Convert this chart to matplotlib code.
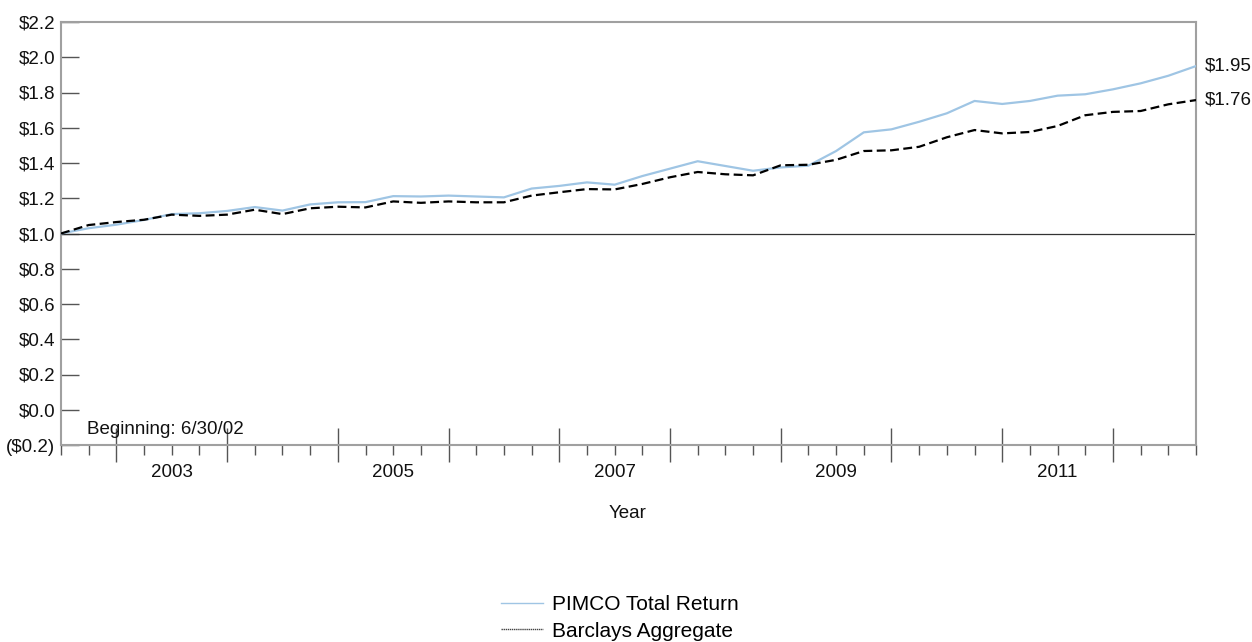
import matplotlib
matplotlib.use("Agg")
import matplotlib.pyplot as plt
import numpy as np
from matplotlib.lines import Line2D

plt.rcParams['font.family'] = ['Liberation Sans', 'DejaVu Sans']

# quarterly points from 6/30/02 to 9/30/12 (decimal years)
quarters = [2002.5 + 0.25 * i for i in range(42)]

pimco = [1.00, 1.03, 1.05, 1.077, 1.11, 1.115, 1.128, 1.15, 1.13, 1.165,
         1.177, 1.178, 1.212, 1.21, 1.215, 1.21, 1.205, 1.255, 1.27, 1.29,
         1.277, 1.326, 1.368, 1.41, 1.383, 1.356, 1.375, 1.385, 1.468, 1.574,
         1.591, 1.634, 1.682, 1.752, 1.735, 1.752, 1.782, 1.79, 1.818, 1.852,
         1.895, 1.95]
barclays = [1.00, 1.048, 1.065, 1.078, 1.107, 1.10, 1.107, 1.135, 1.11, 1.143,
            1.152, 1.148, 1.182, 1.174, 1.182, 1.177, 1.177, 1.215, 1.234, 1.252,
            1.25, 1.281, 1.319, 1.349, 1.336, 1.33, 1.387, 1.39, 1.418, 1.468,
            1.472, 1.492, 1.546, 1.587, 1.568, 1.576, 1.61, 1.671, 1.69, 1.695,
            1.733, 1.757]

series_names = ["PIMCO Total Return", "Barclays Aggregate"]
end_labels = ["$1.95", "$1.76"]
year_labels = ["2003", "2005", "2007", "2009", "2011"]
y_ticks = [-0.2, 0.0, 0.2, 0.4, 0.6, 0.8, 1.0, 1.2, 1.4, 1.6, 1.8, 2.0, 2.2]
y_tick_labels = ["($0.2)", "$0.0", "$0.2", "$0.4", "$0.6", "$0.8", "$1.0",
                 "$1.2", "$1.4", "$1.6", "$1.8", "$2.0", "$2.2"]

FS = 13.5
W, H = 1252, 642
fig = plt.figure(figsize=(W / 100, H / 100), dpi=100)
ax = fig.add_axes([61 / W, 1 - 445 / H, (1196 - 61) / W, (445 - 22) / H])

blue = "#9fc5e4"
ax.plot(quarters, pimco, color=blue, lw=1.6, zorder=3)
ax.plot(quarters, barclays, color="black", lw=1.6, ls=(0, (4, 2)), zorder=4)
ax.axhline(1.0, color="#333333", lw=0.9, zorder=2)

ax.set_xlim(2002.5, 2012.75)
ax.set_ylim(-0.2, 2.2)

for s in ax.spines.values():
    s.set_color("#a0a0a0")
    s.set_linewidth(1.5)

# y ticks
ax.set_yticks(y_ticks)
ax.set_yticklabels(y_tick_labels, fontsize=FS)
ax.tick_params(axis='y', direction='in', length=13, width=1, color="#555555",
               pad=4, labelcolor="#111111")

# x ticks: major at year boundaries, minor quarterly, labels at mid-year
major = np.arange(2003.0, 2012.01, 1.0)
minor = [q for q in quarters if abs(q - round(q)) > 1e-6 or q < 2003 or q > 2012.5]
ax.set_xticks(major)
ax.set_xticklabels([""] * len(major))
ax.set_xticks(minor, minor=True)
ax.tick_params(axis='x', which='major', direction='inout', length=25, width=1,
               color="#555555")
ax.tick_params(axis='x', which='minor', direction='out', length=7, width=1,
               color="#555555")
for lbl in year_labels:
    ax.text(int(lbl) + 0.5, -0.355, lbl, ha='center', va='center', fontsize=FS,
            color="#111111", transform=ax.transData, clip_on=False)

ax.text(2002.735, -0.11, "Beginning: 6/30/02", fontsize=FS, color="#111111",
        ha='left', va='center')

fig.text(628 / W, 1 - 514 / H, "Year", ha='center', va='center', fontsize=FS,
         color="#111111")

# end labels
ax.text(1.008, pimco[-1], end_labels[0], transform=ax.get_yaxis_transform(),
        fontsize=FS, ha='left', va='center', color="#111111", clip_on=False)
ax.text(1.008, barclays[-1], end_labels[1], transform=ax.get_yaxis_transform(),
        fontsize=FS, ha='left', va='center', color="#111111", clip_on=False)

handles = [Line2D([], [], color=blue, lw=1),
           Line2D([], [], color="#444444", lw=1, ls=(0, (1, 0.5)))]
fig.legend(handles, series_names, loc='center', bbox_to_anchor=(620 / W, 1 - 618 / H),
           frameon=False, fontsize=15, handlelength=2.0, handletextpad=0.45,
           labelspacing=0.35, borderpad=0)

fig.savefig("out.png", dpi=100)
